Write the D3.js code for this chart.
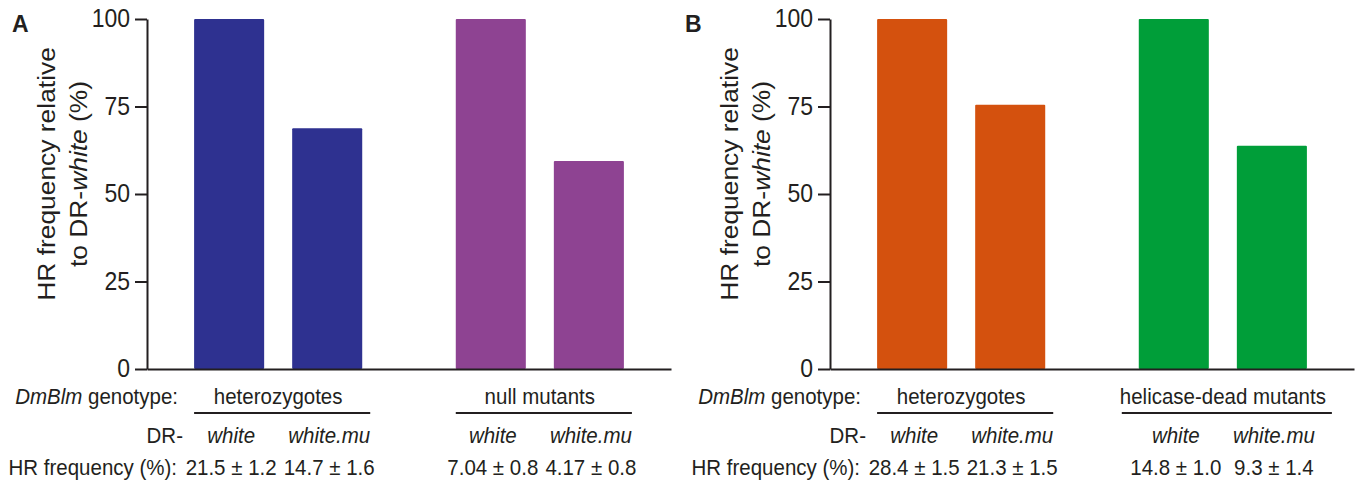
<!DOCTYPE html>
<html>
<head>
  <meta charset="utf-8" />
  <title>HR frequency relative to DR-white</title>
  <script src="https://d3js.org/d3.v7.min.js"></script>
  <style>
    body { margin: 0; background: #fff; }
    text { font-family: "Liberation Sans", Arial, sans-serif; fill: #231f20; }
  </style>
</head>
<body>
  <script>
    // data
    const panelNames = ["A", "B"];
    const groupsA = ["heterozygotes", "null mutants"];
    const groupsB = ["heterozygotes", "helicase-dead mutants"];
    const reporters = ["white", "white.mu"];
    const valuesA = [[100, 68.8], [100, 59.4]];
    const valuesB = [[100, 75.5], [100, 63.8]];
    const freqA = [["21.5 ± 1.2", "14.7 ± 1.6"], ["7.04 ± 0.8", "4.17 ± 0.8"]];
    const freqB = [["28.4 ± 1.5", "21.3 ± 1.5"], ["14.8 ± 1.0", "9.3 ± 1.4"]];
    const colorsA = ["#2e3190", "#8e4392"];
    const colorsB = ["#d4510e", "#009e39"];
    const yTicks = [0, 25, 50, 75, 100];

    const W = 1359, H = 481;
    const SY = 1.1;            // the picture is a bit stretched vertically
    const ink = "#231f20";
    const plotW = 524, yTop = 19, yBot = 369;

    const svg = d3.select("body").append("svg")
      .attr("width", W).attr("height", H);

    const y = d3.scaleLinear().domain([0, 100]).range([yBot, yTop]);

    function txt(g, x, yy, size) {
      return g.append("text")
        .attr("transform", `translate(${x},${yy}) scale(1,${SY})`)
        .style("font-size", size + "px");
    }

    function drawPanel(name, ax, labelX, groups, values, freq, colors) {
      const g = svg.append("g");

      // panel letter
      g.append("text").attr("x", labelX).attr("y", 32)
        .style("font-size", "23px").style("font-weight", "bold")
        .text(name);

      // y label, two lines
      g.append("text")
        .attr("transform", `translate(${ax - 92},174) rotate(-90) scale(${SY},1)`)
        .attr("text-anchor", "middle").style("font-size", "24px")
        .text("HR frequency relative");
      const yl2 = g.append("text")
        .attr("transform", `translate(${ax - 60},174) rotate(-90) scale(${SY},1)`)
        .attr("text-anchor", "middle").style("font-size", "24px");
      yl2.append("tspan").text("to DR-");
      yl2.append("tspan").style("font-style", "italic").text("white");
      yl2.append("tspan").text(" (%)");

      // scales
      const x0 = d3.scaleBand().domain(groups).range([0, plotW])
        .paddingInner(0.3575).paddingOuter(0.18);
      const x1 = d3.scaleBand().domain(reporters).range([0, x0.bandwidth()])
        .paddingInner(28 / 98).paddingOuter(0);

      const plot = g.append("g").attr("transform", `translate(${ax},0)`);

      // bars
      groups.forEach((grp, gi) => {
        plot.selectAll(null)
          .data(values[gi])
          .enter()
          .append("rect")
          .attr("x", (d, i) => x0(grp) + x1(reporters[i]))
          .attr("y", d => y(d))
          .attr("width", x1.bandwidth())
          .attr("height", d => y(0) - y(d))
          .attr("rx", 1)
          .attr("fill", colors[gi]);
      });

      // y axis
      const yAxis = plot.append("g")
        .call(d3.axisLeft(y).tickValues(yTicks).tickSize(12).tickPadding(5).tickSizeOuter(0));
      yAxis.select(".domain").attr("stroke", ink).attr("stroke-width", 2);
      yAxis.selectAll(".tick line").attr("stroke", ink).attr("stroke-width", 2);
      yAxis.selectAll(".tick text")
        .style("font-size", "23px").style("font-family", "Liberation Sans, Arial, sans-serif")
        .attr("fill", ink)
        .attr("dy", "0.3em")
        .attr("transform", `scale(1,${SY})`);

      // x axis line, no ticks
      const xLine = d3.scaleLinear().domain([0, 1]).range([0, plotW]);
      const xAxis = plot.append("g").attr("transform", `translate(0,${y(0)})`)
        .call(d3.axisBottom(xLine).tickValues([]).tickSizeOuter(0));
      xAxis.select(".domain").attr("stroke", ink).attr("stroke-width", 2);

      // table below
      const fs = 20.5;
      const genotype = txt(g, ax + 31, 404, fs).attr("text-anchor", "end");
      genotype.append("tspan").style("font-style", "italic").text("DmBlm");
      genotype.append("tspan").text(" genotype:");
      txt(g, ax + 36, 443, fs).attr("text-anchor", "end").text("DR-");
      txt(g, ax + 30, 475, fs).attr("text-anchor", "end").text("HR frequency (%):");

      groups.forEach((grp, gi) => {
        const cx = ax + x0(grp) + x0.bandwidth() / 2;
        const t = txt(g, cx, 404, fs).attr("text-anchor", "middle").text(grp);
        const tw = t.node().getComputedTextLength();
        const uw = Math.max(x0.bandwidth() + 8, tw + 4);
        g.append("line")
          .attr("x1", cx + 4 - uw / 2).attr("x2", cx + 4 + uw / 2)
          .attr("y1", 413).attr("y2", 413)
          .attr("stroke", ink).attr("stroke-width", 2);

        reporters.forEach((r, ri) => {
          const bx = ax + x0(grp) + x1(r) + x1.bandwidth() / 2 + 2;
          txt(g, bx, 443, fs).attr("text-anchor", "middle")
            .style("font-style", "italic").text(r);
          txt(g, bx, 475, fs).attr("text-anchor", "middle").text(freq[gi][ri]);
        });
      });
    }

    drawPanel(panelNames[0], 147, 12, groupsA, valuesA, freqA, colorsA);
    drawPanel(panelNames[1], 830, 685, groupsB, valuesB, freqB, colorsB);
  </script>
</body>
</html>
